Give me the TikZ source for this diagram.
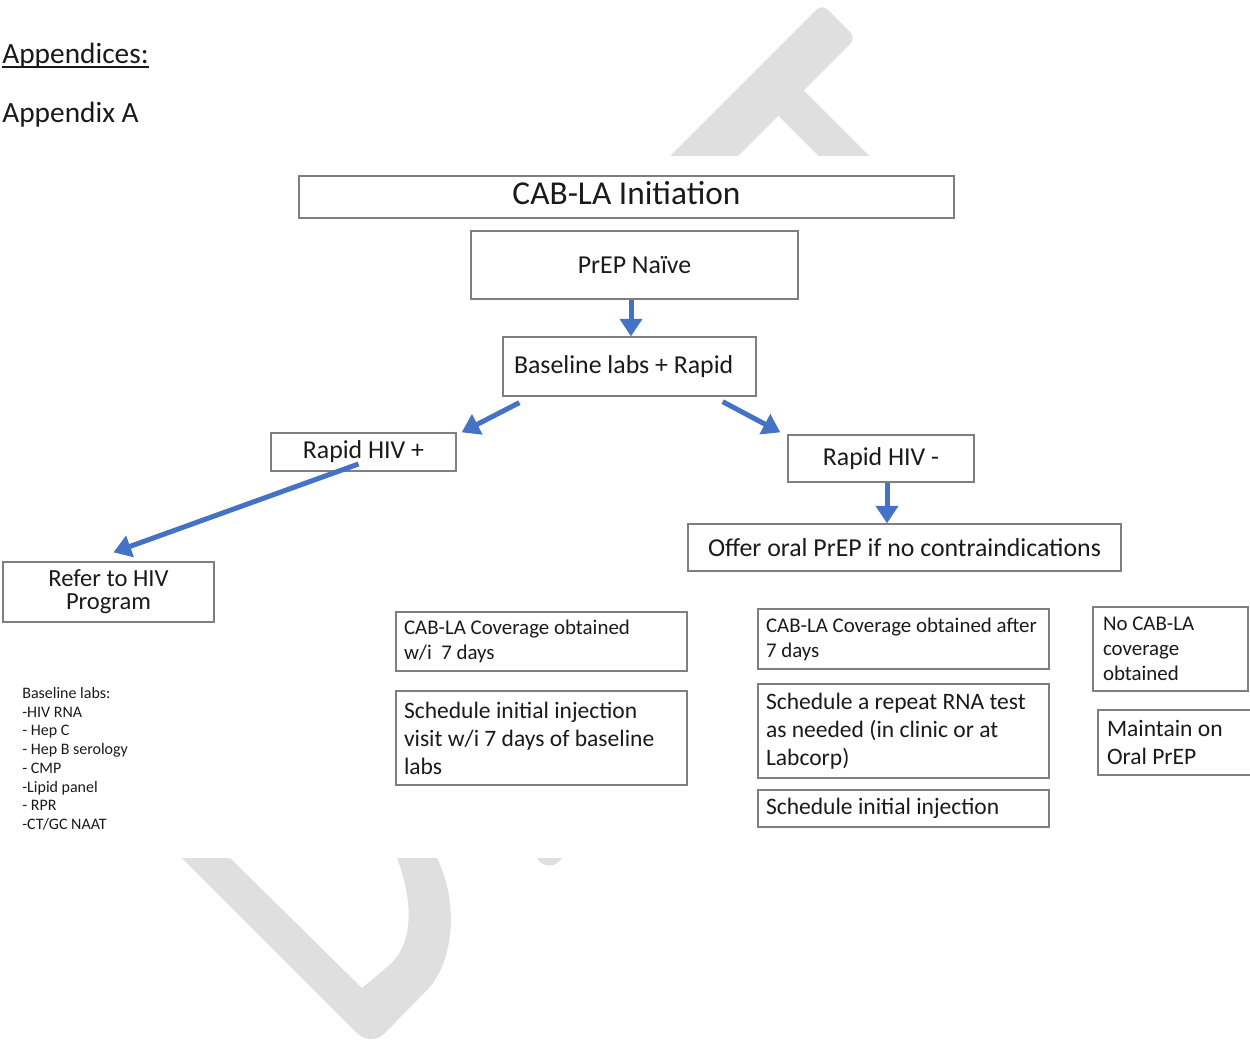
\documentclass[tikz,border=0pt]{standalone}
\usepackage{fontspec}
\setmainfont{Carlito}
\usetikzlibrary{arrows.meta,calc}
\definecolor{arrblue}{HTML}{4472C4}
\definecolor{boxline}{HTML}{7F7F7F}
\definecolor{wmgray}{HTML}{DFDFDF}
\definecolor{ink}{HTML}{1A1A1A}
\newdimen\px \px=0.02cm
\begin{document}
\begin{tikzpicture}[x=0.02cm,y=-0.02cm,
  box/.style={draw=boxline, line width=1.3\px, inner sep=0pt, text=ink, anchor=center},
  lbox/.style={box, align=flush left, inner xsep=8\px},
  arr/.style={draw=arrblue, line width=2.85pt, -{Triangle[length=10pt,width=12.5pt]}},
  txt/.style={inner sep=0pt, text=ink},
  fbig/.style={font=\fontsize{19}{23}\selectfont},
  fhead/.style={font=\fontsize{16.7}{20}\selectfont},
  fmain/.style={font=\fontsize{14.7}{17.6}\selectfont},
  fmid/.style={font=\fontsize{13.4}{15.9}\selectfont},
  fsmall/.style={font=\fontsize{11.9}{14.2}\selectfont},
  ftiny/.style={font=\fontsize{9.1}{10.65}\selectfont},
]
\useasboundingbox (0,0) rectangle (1250,1046);
% watermark pieces
\begin{scope}
  \clip (0,0) rectangle (1250,155);
  \fill[wmgray, rounded corners=8\px] (822,4) -- (856,38) -- (556,338) -- (522,304) -- cycle;
  \draw[wmgray, line width=36\px] (773,85) -- (973,285);
\end{scope}
\fill[wmgray] (182,858) -- (355,1031) .. controls (362,1040) and (375,1042) .. (384,1034)
  -- (427,990) .. controls (450,967) and (462,910) .. (437,858)
  -- (397,858) .. controls (413,900) and (415,945) .. (387,967) -- (362,988) -- (230,858) -- cycle;
\fill[wmgray] (537,858) .. controls (542,868) and (556,868) .. (562,858) -- cycle;

% heading texts
\node[txt, fhead, anchor=base west] (apx) at (2,63) {Appendices:};
\draw[ink, line width=2\px] ([yshift=-4\px]apx.base west) -- ([yshift=-4\px]apx.base east);
\node[txt, fhead, anchor=base west] (apxa) at (2,122) {Appendix A};

% boxes
\node[box, fbig, text depth=8\px, minimum width=655\px, minimum height=42\px] (init) at (626.5,197) {CAB-LA Initiation};
\node[box, fmain, minimum width=327\px, minimum height=68\px] (naive) at (634.5,265) {PrEP Naïve};
\node[lbox, fmain, inner xsep=11\px, text width=231\px, minimum height=59\px] (base) at (629.5,366.5) {Baseline labs + Rapid};
\node[box, fmain, minimum width=185\px, minimum height=38\px] (plus) at (363.5,452) {Rapid HIV +};
\node[box, fmain, minimum width=186\px, minimum height=47\px] (minus) at (881,458.5) {Rapid HIV -};
\node[box, fmain, minimum width=433\px, minimum height=47\px] (offer) at (904.5,547.5) {Offer oral PrEP if no contraindications};
\node[box, font=\fontsize{14}{13.1}\selectfont, align=center, minimum width=211\px, minimum height=60\px] (refer) at (108.5,592) {Refer to HIV\\Program};

\node[lbox, fsmall, text width=275\px, minimum height=59\px] (cov1) at (541.5,641.5) {\mbox{CAB-LA Coverage obtained}\\\mbox{w/i\ \ 7 days}};
\node[lbox, fmid, text width=275\px, minimum height=94\px] (sch1) at (541.5,738) {\mbox{Schedule initial injection}\\\mbox{visit w/i 7 days of baseline}\\labs};
\node[lbox, fsmall, text width=275\px, minimum height=60\px] (cov2) at (903.5,639) {\mbox{CAB-LA Coverage obtained after}\\\mbox{7 days}};
\node[lbox, fmid, text width=275\px, minimum height=94\px] (rep) at (903.5,731) {\mbox{Schedule a repeat RNA test}\\\mbox{as needed (in clinic or at}\\\mbox{Labcorp)}};
\node[lbox, fmid, text width=275\px, minimum height=37\px] (sch2) at (903.5,808.5) {\mbox{Schedule initial injection}};
\node[lbox, fsmall, inner xsep=10\px, text width=135\px, minimum height=84\px] (nocov) at (1170.5,649) {No CAB-LA\\coverage\\obtained};
\node[lbox, fmid, inner xsep=9\px, text width=140\px, minimum height=65\px] (maint) at (1177,742.5) {\mbox{Maintain on}\\\mbox{Oral PrEP}};

% baseline labs list
\node[txt, ftiny, align=flush left, anchor=north west] (labs) at (22,687) {Baseline labs:\\-HIV RNA\\- Hep C\\- Hep B serology\\- CMP\\-Lipid panel\\- RPR\\-CT/GC NAAT};

% arrows
\draw[arr] ([xshift=-3.5\px]naive.south) -- ([xshift=-3.5\px]naive.south |- base.north);
\draw[arr] ([xshift=17\px,yshift=-6\px]base.south west) -- ([xshift=5\px]plus.north east);
\draw[arr] ([xshift=-34\px,yshift=-5\px]base.south east) -- ([xshift=-7\px,yshift=2\px]minus.north west);
\draw[arr] ([xshift=6\px]minus.south) -- ([xshift=6\px]minus.south |- offer.north);
\draw[arr] ([xshift=-5\px,yshift=-12\px]plus.center) -- ([xshift=5\px,yshift=9\px]refer.north);
\end{tikzpicture}
\end{document}
